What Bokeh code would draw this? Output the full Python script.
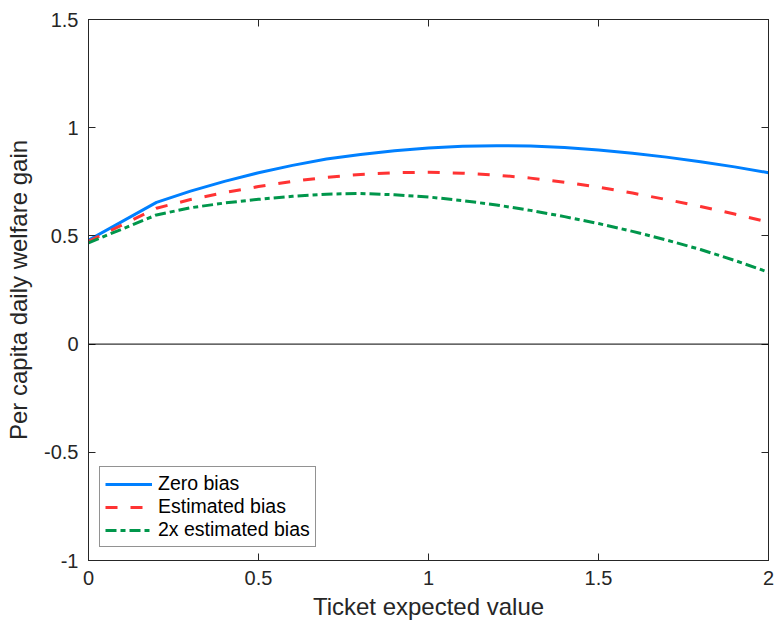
from bokeh.plotting import figure
from bokeh.models import Range1d, LinearAxis, Span, Legend, LegendItem, FixedTicker
from bokeh.embed import file_html
from bokeh.resources import INLINE

# Ticket expected value grid
ticket_value = [0.0, 0.2, 0.3, 0.4, 0.5, 0.6, 0.7, 0.8, 0.9, 1.0,
                1.1, 1.2, 1.3, 1.4, 1.5, 1.6, 1.7, 1.8, 1.9, 2.0]

# Per capita daily welfare gain under each bias assumption
zero_bias = [0.480, 0.655, 0.707, 0.752, 0.792, 0.826, 0.855, 0.876, 0.893, 0.906,
             0.914, 0.917, 0.915, 0.908, 0.897, 0.882, 0.864, 0.843, 0.819, 0.792]
estimated_bias = [0.475, 0.628, 0.668, 0.700, 0.728, 0.752, 0.771, 0.784, 0.792, 0.794,
                  0.790, 0.781, 0.767, 0.748, 0.725, 0.698, 0.668, 0.636, 0.601, 0.564]
double_bias = [0.468, 0.597, 0.630, 0.652, 0.669, 0.683, 0.693, 0.696, 0.690, 0.680,
               0.663, 0.643, 0.618, 0.589, 0.557, 0.521, 0.481, 0.437, 0.387, 0.332]

x_ticks = [0, 0.5, 1, 1.5, 2]
x_tick_labels = ["0", "0.5", "1", "1.5", "2"]
y_ticks = [-1, -0.5, 0, 0.5, 1, 1.5]
y_tick_labels = ["-1", "-0.5", "0", "0.5", "1", "1.5"]

FONT = "Liberation Sans"
AXIS_COLOR = "#262626"

p = figure(width=778, height=622, output_backend="svg", toolbar_location=None,
           x_range=Range1d(0, 2), y_range=Range1d(-1, 1.5),
           min_border_left=88, min_border_right=10, min_border_top=19,
           min_border_bottom=62)
p.grid.visible = False
p.outline_line_color = AXIS_COLOR
p.outline_line_width = 1
p.background_fill_color = "white"
p.border_fill_color = "white"


def style_axis(ax, ticks, labels=None):
    ax.ticker = FixedTicker(ticks=ticks)
    ax.major_tick_in = 7
    ax.major_tick_out = 0
    ax.minor_tick_line_color = None
    ax.axis_line_color = AXIS_COLOR
    ax.major_tick_line_color = AXIS_COLOR
    ax.major_label_text_font = FONT
    ax.major_label_text_color = AXIS_COLOR
    ax.axis_label_text_font = FONT
    ax.axis_label_text_font_style = "normal"
    ax.axis_label_text_color = AXIS_COLOR
    ax.major_label_text_font_size = "20px"
    ax.axis_label_text_font_size = "24px"
    if labels is not None:
        ax.major_label_overrides = dict(zip(ticks, labels))
    else:
        # mirrored box ticks only, no labels
        ax.major_label_overrides = {t: "" for t in ticks}
        ax.major_label_standoff = 0


style_axis(p.xaxis[0], x_ticks, x_tick_labels)
style_axis(p.yaxis[0], y_ticks, y_tick_labels)
p.xaxis.axis_label = "Ticket expected value"
p.yaxis.axis_label = "Per capita daily welfare gain"
p.xaxis.major_label_standoff = 10
p.yaxis.major_label_standoff = 10
p.xaxis.axis_label_standoff = 5
p.yaxis.axis_label_standoff = 9

top_axis = LinearAxis()
style_axis(top_axis, x_ticks)
p.add_layout(top_axis, "above")
right_axis = LinearAxis()
style_axis(right_axis, y_ticks)
p.add_layout(right_axis, "right")

p.add_layout(Span(location=0, dimension="width", line_color="black", line_width=1))

r_zero = p.line(ticket_value, zero_bias, line_color="#0080FF", line_width=3)
r_est = p.line(ticket_value, estimated_bias, line_color="#FF3333", line_width=3,
               line_dash="12 13")
r_dbl = p.line(ticket_value, double_bias, line_color="#00964B", line_width=3,
               line_dash="11 4 5 4")

legend = Legend(items=[
    LegendItem(label="Zero bias", renderers=[r_zero]),
    LegendItem(label="Estimated bias", renderers=[r_est]),
    LegendItem(label="2x estimated bias", renderers=[r_dbl]),
], location=(11, 13))
legend.margin = 0
legend.padding = 5
legend.spacing = 0
legend.glyph_width = 47
legend.glyph_height = 18
legend.label_height = 18
legend.label_standoff = 6
legend.label_text_font = FONT
legend.label_text_font_size = "19.5px"
legend.label_text_color = "black"
legend.border_line_color = AXIS_COLOR
legend.border_line_width = 1
legend.background_fill_color = "white"
legend.background_fill_alpha = 1
p.add_layout(legend, "center")

open("out.html", "w").write(file_html(p, INLINE))
